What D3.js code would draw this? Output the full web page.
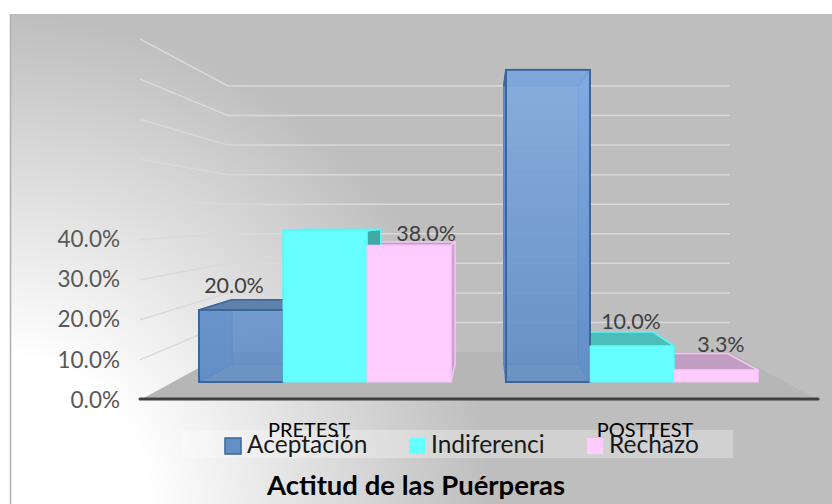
<!DOCTYPE html>
<html>
<head>
<meta charset="utf-8">
<script src="https://cdn.jsdelivr.net/npm/d3@7"></script>
<style>
  html, body { margin: 0; padding: 0; background: #fff; }
  svg { display: block; }
  text { font-family: Lato, sans-serif; }
</style>
</head>
<body>
<svg width="832" height="504"></svg>
<script>
var categories = ["PRETEST", "POSTTEST"];
var seriesNames = ["Aceptación", "Indiferenci", "Rechazo"];
var aceptacion = [20.0, 86.7];
var indiferencia = [42.0, 10.0];
var rechazo = [38.0, 3.3];
var gridValues = [0, 10, 20, 30, 40, 50, 60, 70, 80, 90];
var tickValues = [0, 10, 20, 30, 40];
var shownLabels = [[true, false, true], [false, true, true]];

var svg = d3.select("svg");
var defs = svg.append("defs");

// background, white in the lower left corner going to grey
var bg = defs.append("radialGradient").attr("id", "bg")
  .attr("gradientUnits", "userSpaceOnUse")
  .attr("cx", 0).attr("cy", 504).attr("r", 490);
bg.append("stop").attr("offset", 0.3).attr("stop-color", "#ffffff");
bg.append("stop").attr("offset", 1).attr("stop-color", "#bebebe");

var blue = defs.append("linearGradient").attr("id", "blueFront")
  .attr("gradientUnits", "userSpaceOnUse")
  .attr("x1", 0).attr("y1", 68).attr("x2", 0).attr("y2", 382);
blue.append("stop").attr("offset", 0).attr("stop-color", "#85aee3");
blue.append("stop").attr("offset", 1).attr("stop-color", "#5f8cc4");

svg.append("rect").attr("x", 10).attr("y", 14).attr("width", 822).attr("height", 490)
  .attr("fill", "url(#bg)");
svg.append("line").attr("x1", 10.5).attr("x2", 10.5).attr("y1", 14).attr("y2", 504)
  .attr("stroke", "#b0b0b0").attr("stroke-width", 1.5);

// scales: the front plane of the bars, their back plane, the walls
var yFront = d3.scaleLinear().domain([0, 100]).range([382, 22]);
var yBack = d3.scaleLinear().domain([0, 100]).range([364, 43]);
var yWall = d3.scaleLinear().domain([0, 90]).range([352, 86]);
var ySide = d3.scaleLinear().domain([0, 90]).range([400, 39]);
var xBack = d3.scaleLinear().domain([199, 758]).range([232, 727]);

var xGroup = d3.scaleBand().domain(categories).range([199, 758]).paddingInner(0.179);
var xBar = d3.scaleBand().domain(d3.range(3)).range([0, xGroup.bandwidth()]);
var xAxisScale = d3.scaleBand().domain(categories).range([141, 813]);

var wallLeft = 228, wallRight = 730, floorLeft = 140, floorRight = 818;

// floor
svg.append("polygon")
  .attr("points", [[floorLeft, ySide(0)], [wallLeft, yWall(0)], [wallRight, yWall(0)], [floorRight, ySide(0)]].join(" "))
  .attr("fill", "#b6b6b6");

// walls
var line = d3.line();
svg.append("g").selectAll("path")
  .data(gridValues.slice(1))
  .enter().append("path")
  .attr("d", function(d) {
    return line([[floorLeft, ySide(d)], [wallLeft, yWall(d)], [wallRight, yWall(d)]]);
  })
  .attr("fill", "none")
  .attr("stroke", "#d9d9d9")
  .attr("stroke-width", 1.5);

var faces = [
  { front: "url(#blueFront)", top: "#5f82ad", side: "#6f9bd2", back: "rgba(90,135,190,0.35)", stroke: "#3b6699", inner: "#5a88c2" },
  { front: "#66ffff", top: "#4dbdb9", side: "#3fa9a6", back: "none", stroke: "#5ef5f5", inner: "none" },
  { front: "#ffccff", top: "#c29dc2", side: "#c9a3c9", back: "none", stroke: "#f5c3f5", inner: "none" }
];
var values = [aceptacion, indiferencia, rechazo];

var bars = [];
categories.forEach(function(cat, c) {
  values.forEach(function(v, s) {
    var x0 = xGroup(cat) + xBar(s), x1 = x0 + xBar.bandwidth();
    bars.push({ cat: c, s: s, v: v[c], x0: x0, x1: x1, b0: xBack(x0), b1: xBack(x1) });
  });
});

function poly(g, pts, fill, stroke, width) {
  g.append("polygon").attr("points", pts.join(" "))
    .attr("fill", fill).attr("stroke", stroke || "none").attr("stroke-width", width || 0)
    .attr("stroke-linejoin", "round");
}

// first the back and side faces, the last series first
var backG = svg.append("g");
bars.slice().sort(function(a, b) { return b.s - a.s; }).forEach(function(d) {
  var f = faces[d.s];
  var t = yFront(d.v), b = yFront(0), tb = yBack(d.v), bb = yBack(0);
  var edge = d.s == 0 ? f.inner : f.stroke;
  poly(backG, [[d.b0, bb], [d.b1, bb], [d.b1, tb], [d.b0, tb]], f.back, f.inner, 1.5);
  poly(backG, [[d.x0, b], [d.b0, bb], [d.b0, tb], [d.x0, t]], f.side, edge, 1.5);
  poly(backG, [[d.x1, b], [d.b1, bb], [d.b1, tb], [d.x1, t]], f.side, edge, 1.5);
  poly(backG, [[d.x0, t], [d.x1, t], [d.b1, tb], [d.b0, tb]], f.top, f.stroke, 1.5);
});

// then the front faces
var frontG = svg.append("g");
bars.forEach(function(d) {
  var f = faces[d.s];
  frontG.append("rect")
    .attr("x", d.x0).attr("y", yFront(d.v))
    .attr("width", d.x1 - d.x0).attr("height", yFront(0) - yFront(d.v))
    .attr("fill", f.front)
    .attr("fill-opacity", d.s == 0 ? 0.85 : 1)
    .attr("stroke", f.stroke).attr("stroke-width", d.s == 0 ? 2 : 1);
});

// front edge of the floor
svg.append("line")
  .attr("x1", floorLeft).attr("x2", floorRight).attr("y1", 399).attr("y2", 399)
  .attr("stroke", "#404040").attr("stroke-width", 3).attr("stroke-linecap", "round");

// value axis
var yAxis = d3.axisLeft(ySide).tickValues(tickValues).tickSize(0).tickPadding(0)
  .tickFormat(function(d) { return d3.format(".1f")(d) + "%"; });
var yG = svg.append("g").attr("transform", "translate(120,0)").call(yAxis);
yG.select(".domain").remove();
yG.selectAll("text").style("font-family", "Lato, sans-serif")
  .style("font-size", "22.5px").attr("fill", "#595959");

// data labels, nudged off the bars like the original
var labelNudge = { "0-0": [-7, 293], "0-2": [17, 241], "1-1": [-1, 329], "1-2": [5, 352] };
svg.append("g").selectAll("text")
  .data(bars.filter(function(d) { return shownLabels[d.cat][d.s]; }))
  .enter().append("text")
  .attr("x", function(d) { return (d.x0 + d.x1) / 2 + labelNudge[d.cat + "-" + d.s][0]; })
  .attr("y", function(d) { return labelNudge[d.cat + "-" + d.s][1]; })
  .attr("text-anchor", "middle")
  .attr("font-size", 21.5)
  .attr("fill", "#404040")
  .text(function(d) { return d3.format(".1f")(d.v) + "%"; });

// legend
svg.append("rect").attr("x", 182).attr("y", 430).attr("width", 551).attr("height", 28)
  .attr("fill", "#fff").attr("fill-opacity", 0.3);

var xAxis = d3.axisBottom(xAxisScale).tickSize(0).tickPadding(0);
var xG = svg.append("g").attr("transform", "translate(0,420)").call(xAxis);
xG.select(".domain").remove();
xG.selectAll("text").style("font-family", "Lato, sans-serif")
  .style("font-size", "20px").attr("fill", "#000").attr("dy", 0).attr("y", 17);

var legendX = [225, 409, 587];
var legendSwatch = ["#6490c6", "#66ffff", "#ffccff"];
var legend = svg.append("g").selectAll("g").data(seriesNames).enter().append("g")
  .attr("transform", function(d, i) { return "translate(" + legendX[i] + ",438)"; });
legend.append("rect").attr("width", 16).attr("height", 16)
  .attr("fill", function(d, i) { return legendSwatch[i]; })
  .attr("stroke", function(d, i) { return i == 0 ? "#3b6699" : "none"; })
  .attr("stroke-width", 1.5);
legend.append("text").attr("x", 22).attr("y", 15)
  .attr("font-size", 24.5).attr("fill", "#1a1a1a")
  .text(function(d) { return d; });

svg.append("text").attr("x", 416).attr("y", 495).attr("text-anchor", "middle")
  .attr("font-size", 27.5).attr("font-weight", "bold").attr("fill", "#000")
  .text("Actitud de las Puérperas");
</script>
</body>
</html>
